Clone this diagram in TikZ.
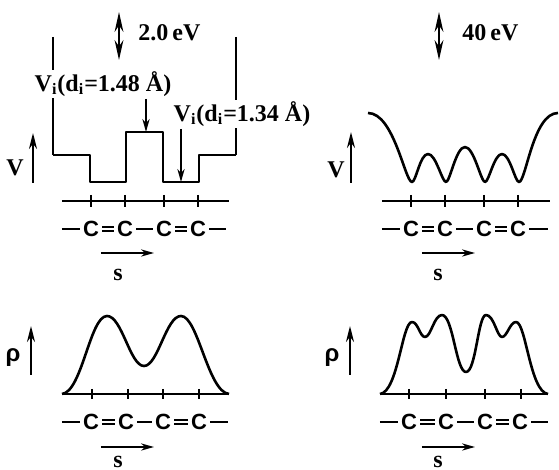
\documentclass[tikz,border=0pt]{standalone}
\usepackage{fontspec}
\setmainfont{Liberation Serif}
\setsansfont{Liberation Sans}
\usetikzlibrary{arrows.meta}

\begin{document}
\begin{tikzpicture}[x=0.5pt, y=-0.5pt,
    curve/.style={line width=1.3pt, line join=round},
    wall/.style={line width=1pt},
    axis/.style={line width=1.2pt},
    tick/.style={line width=0.9pt},
    atom/.style={font=\fontsize{11}{13}\sffamily\bfseries, inner sep=1.5pt},
    bond/.style={line width=1.2pt},
    dbond/.style={double, double distance=1.1pt, line width=0.8pt},
    lab/.style={font=\fontsize{12}{14}\selectfont\bfseries, inner sep=1pt},
    slab/.style={font=\fontsize{12}{14}\selectfont\bfseries, inner sep=0pt},
    ptr/.style={line width=1pt, -{Stealth[length=6.5pt,width=3.6pt]}},
    vaxis/.style={line width=1pt, -{Stealth[length=8pt,width=4pt]}},
    dbl/.style={line width=1pt, {Stealth[length=10pt,width=4.4pt]}-{Stealth[length=10pt,width=4.4pt]}}]
    \useasboundingbox (0,0) rectangle (559,470);

    % Top left: step potential
    \draw[wall] (53,37) -- (53,155);
    \draw[wall] (236,37) -- (236,155);
    \draw[curve] (53,155) -- (90,155) -- (90,182) -- (126,182) -- (126,132) -- (163,132)
        -- (163,182) -- (199,182) -- (199,155) -- (236,155);
    \coordinate (gA0) at (119,12);
    \coordinate (gA1) at (119,60);
    \draw[dbl] (gA0) -- (gA1);
    \node[lab, anchor=west] (gapA) at (136,33) {2.0\,eV};
    \node[lab, fill=white] (LA1) at (103,84) {V\textsubscript{i}(d\textsubscript{i}=1.48 Å)};
    \node[lab, fill=white] (LA2) at (242,114) {V\textsubscript{i}(d\textsubscript{i}=1.34 Å)};
    \coordinate (pA1) at (146,132);
    \coordinate (pA2) at (181,182);
    \draw[ptr] (LA1.south -| pA1) -- (pA1);
    \draw[ptr] (LA2.south -| pA2) -- (pA2);
    \node[lab] (VA) at (15,168) {V};
    \coordinate (vA0) at (33,183);
    \coordinate (vA1) at (33,133);
    \draw[vaxis] (vA0) -- (vA1);
    \draw[axis] (62,201) -- (229,201);
    \draw[tick] (91,195) -- (91,207) (125,195) -- (125,207) (164,195) -- (164,207) (198,195) -- (198,207);
    \node[atom] (a1) at (91,229) {C};
    \node[atom] (a2) at (125,229) {C};
    \node[atom] (a3) at (164,229) {C};
    \node[atom] (a4) at (198,229) {C};
    \coordinate (a0) at (62,229);
    \coordinate (a5) at (226,229);
    \draw[bond] (a0) -- (a1) (a2) -- (a3) (a4) -- (a5);
    \draw[dbond] (a1) -- (a2) (a3) -- (a4);
    \coordinate (sA0) at (101,253);
    \coordinate (sA1) at (154,253);
    \draw[ptr] (sA0) -- (sA1);
    \node[slab] (sA) at (118,275) {s};

    % Top right: smooth potential
    \draw[curve] (368,113) .. controls (394,113) and (405,182) .. (412,182)
        .. controls (416,182) and (420,154) .. (428,154)
        .. controls (436,154) and (442,182) .. (446,182)
        .. controls (450,182) and (456,147) .. (465,147)
        .. controls (474,147) and (481,182) .. (485,182)
        .. controls (489,182) and (494,154) .. (502,154)
        .. controls (510,154) and (515,182) .. (519,182)
        .. controls (526,182) and (533,113) .. (558,113);
    \coordinate (gB0) at (439,12);
    \coordinate (gB1) at (439,60);
    \draw[dbl] (gB0) -- (gB1);
    \node[lab, anchor=west] (gapB) at (460,33) {40\,eV};
    \node[lab] (VB) at (336,170) {V};
    \coordinate (vB0) at (351,183);
    \coordinate (vB1) at (351,132);
    \draw[vaxis] (vB0) -- (vB1);
    \draw[axis] (382,201) -- (550,201);
    \draw[tick] (411,195) -- (411,207) (445,195) -- (445,207) (484,195) -- (484,207) (518,195) -- (518,207);
    \node[atom] (b1) at (411,229) {C};
    \node[atom] (b2) at (445,229) {C};
    \node[atom] (b3) at (484,229) {C};
    \node[atom] (b4) at (518,229) {C};
    \coordinate (b0) at (382,229);
    \coordinate (b5) at (548,229);
    \draw[bond] (b0) -- (b1) (b2) -- (b3) (b4) -- (b5);
    \draw[dbond] (b1) -- (b2) (b3) -- (b4);
    \coordinate (sB0) at (422,253);
    \coordinate (sB1) at (475,253);
    \draw[ptr] (sB0) -- (sB1);
    \node[slab] (sB) at (438,275) {s};

    % Bottom left: density
    \draw[curve] (62,394) .. controls (82,392) and (90,316) .. (107,316)
        .. controls (122,316) and (130,366) .. (144,366)
        .. controls (158,366) and (166,316) .. (181,316)
        .. controls (198,316) and (208,392) .. (229,394);
    \node[lab] (rC) at (13,358) {\sffamily\bfseries ρ};
    \coordinate (rC0) at (31,375);
    \coordinate (rC1) at (31,326);
    \draw[vaxis] (rC0) -- (rC1);
    \draw[axis] (62,394) -- (229,394);
    \draw[tick] (92,389) -- (92,399) (128,389) -- (128,399) (163,389) -- (163,399) (199,389) -- (199,399);
    \node[atom] (c1) at (91,422) {C};
    \node[atom] (c2) at (126,422) {C};
    \node[atom] (c3) at (163,422) {C};
    \node[atom] (c4) at (199,422) {C};
    \coordinate (c0) at (62,422);
    \coordinate (c5) at (228,422);
    \draw[bond] (c0) -- (c1) (c2) -- (c3) (c4) -- (c5);
    \draw[dbond] (c1) -- (c2) (c3) -- (c4);
    \coordinate (sC0) at (101,447);
    \coordinate (sC1) at (154,447);
    \draw[ptr] (sC0) -- (sC1);
    \node[slab] (sC) at (118,462) {s};

    % Bottom right: density
    \draw[curve] (380,394) .. controls (398,392) and (402,322) .. (412,322)
        .. controls (418,322) and (420,337) .. (425,337)
        .. controls (431,337) and (434,315) .. (442,315)
        .. controls (453,315) and (456,372) .. (466,372)
        .. controls (476,372) and (478,315) .. (486,315)
        .. controls (494,315) and (497,337) .. (502,337)
        .. controls (507,337) and (510,322) .. (516,322)
        .. controls (526,322) and (530,392) .. (548,394);
    \node[lab] (rD) at (332,358) {\sffamily\bfseries ρ};
    \coordinate (rD0) at (350,375);
    \coordinate (rD1) at (350,326);
    \draw[vaxis] (rD0) -- (rD1);
    \draw[axis] (380,394) -- (548,394);
    \draw[tick] (409,389) -- (409,399) (446,389) -- (446,399) (485,389) -- (485,399) (521,389) -- (521,399);
    \node[atom] (d1) at (409,422) {C};
    \node[atom] (d2) at (446,422) {C};
    \node[atom] (d3) at (485,422) {C};
    \node[atom] (d4) at (520,422) {C};
    \coordinate (d0) at (380,422);
    \coordinate (d5) at (548,422);
    \draw[bond] (d0) -- (d1) (d2) -- (d3) (d4) -- (d5);
    \draw[dbond] (d1) -- (d2) (d3) -- (d4);
    \coordinate (sD0) at (422,447);
    \coordinate (sD1) at (475,447);
    \draw[ptr] (sD0) -- (sD1);
    \node[slab] (sD) at (438,462) {s};
\end{tikzpicture}
\end{document}
